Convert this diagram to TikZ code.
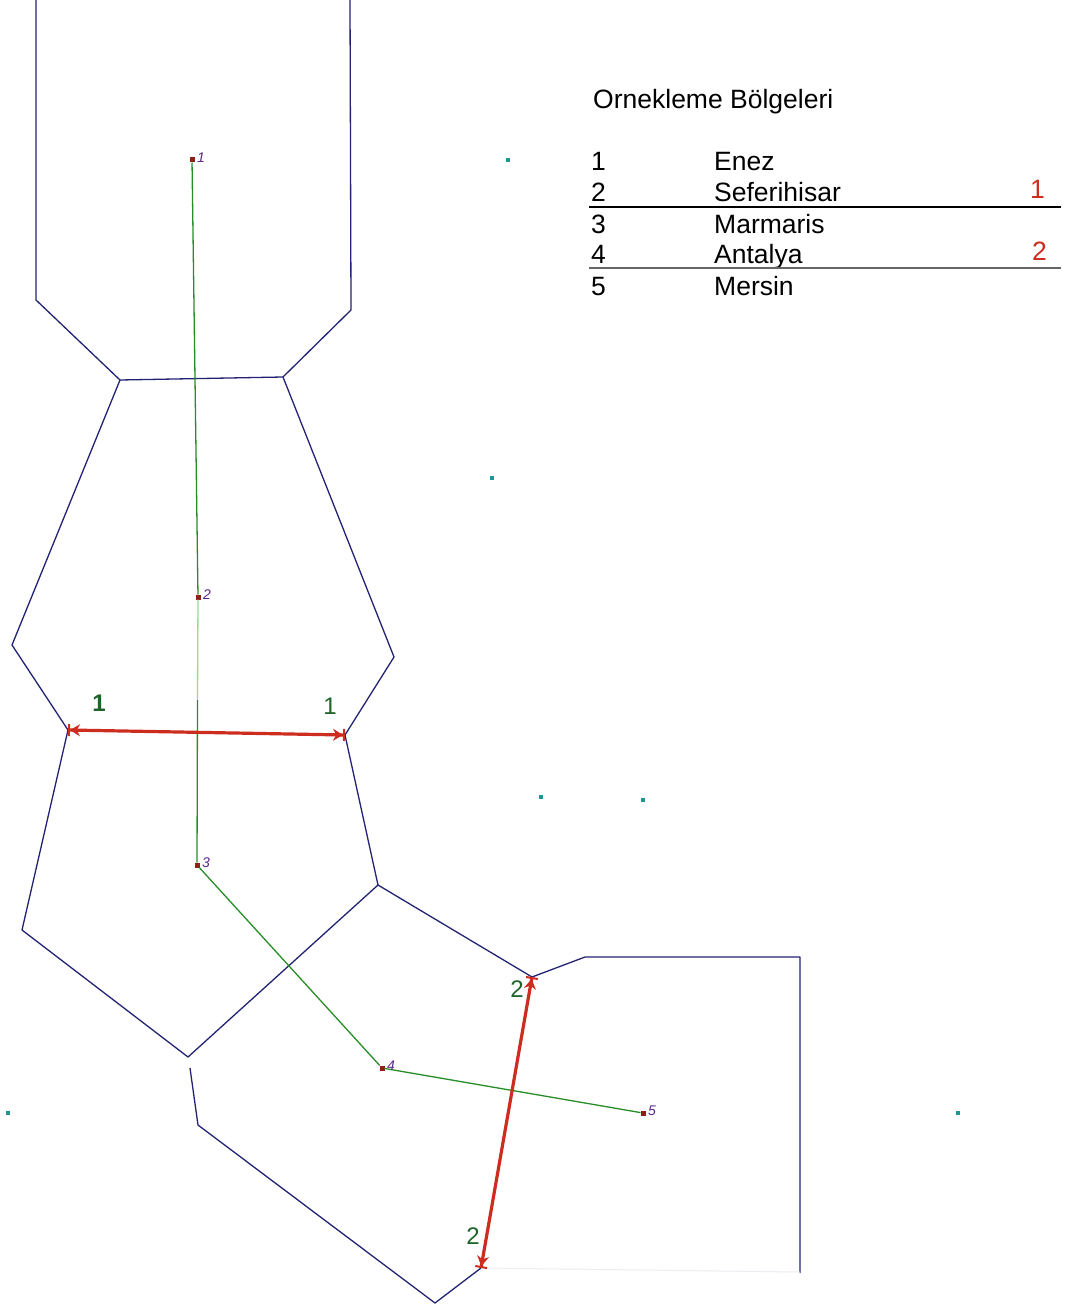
\documentclass[tikz,border=0pt]{standalone}
\usepackage{fontspec}
\setmainfont{Liberation Sans}
\usetikzlibrary{arrows.meta}
\definecolor{navy}{RGB}{35,35,115}
\definecolor{grn}{RGB}{40,140,40}
\definecolor{lgrn}{RGB}{150,220,150}
\definecolor{rd}{RGB}{205,45,30}
\definecolor{teal2}{RGB}{30,150,150}
\definecolor{purp}{RGB}{90,40,140}
\definecolor{dgrn}{RGB}{30,100,40}
\tikzset{
  cell/.style={draw=navy,line width=1.3pt,line join=round},
  faint/.style={draw=navy!8,line width=1pt},
  path1/.style={draw=grn,line width=1.3pt},
  barrier/.style={draw=rd,line width=3.2pt,{Bar[width=12pt,line width=2pt]Stealth[length=10pt,width=12pt]}-{Stealth[length=10pt,width=12pt]Bar[width=12pt,line width=2pt]}},
  pt/.style={fill=rd!70!black,minimum size=5pt,inner sep=0pt,outer sep=0pt},
  ptlab/.style={text=purp,font=\fontsize{14}{14}\itshape,inner sep=0pt,anchor=south west},
  dot/.style={fill=teal2,minimum size=4.5pt,inner sep=0pt},
  blab/.style={text=dgrn,font=\fontsize{24}{24}\selectfont,inner sep=0pt},
  leg/.style={font=\fontsize{26.5}{26.5}\selectfont,inner sep=0pt,anchor=base west},
  legr/.style={leg,text=rd},
}
\begin{document}
\begin{tikzpicture}[x=1pt,y=-1pt]
\path[fill=white,use as bounding box] (0,0) rectangle (1079,1308);
% vertices
\coordinate (a0) at (36,0);
\coordinate (a1) at (36,300);
\coordinate (a2) at (120,380);
\coordinate (a3) at (283,377);
\coordinate (a4) at (351,310);
\coordinate (a5) at (350,0);
\coordinate (b1) at (12,645);
\coordinate (b2) at (68,730);
\coordinate (b3) at (394,657);
\coordinate (b4) at (345,735);
\coordinate (c1) at (22,930);
\coordinate (c2) at (188,1057);
\coordinate (c3) at (378,885);
\coordinate (d1) at (532,977);
\coordinate (d2) at (585,957);
\coordinate (d3) at (800,957);
\coordinate (d4) at (800,1273);
\coordinate (e0) at (190,1068);
\coordinate (e1) at (198,1125);
\coordinate (e2) at (435,1303);
\coordinate (e3) at (481,1268);
\coordinate (e4) at (800,1272);
% cells
\draw[cell] (a0)--(a1)--(a2)--(a3)--(a4)--(a5);
\draw[cell] (a2)--(b1)--(b2);
\draw[cell] (a3)--(b3)--(b4);
\draw[cell] (b2)--(c1)--(c2)--(c3)--(b4);
\draw[cell] (c3)--(d1)--(d2)--(d3)--(d4);
\draw[cell] (e0)--(e1)--(e2)--(e3);
\draw[faint] (e3)--(e4);
% points
\node[pt] (p1) at (192,160) {};
\node[pt] (p2) at (198,597) {};
\node[pt] (p3) at (197,865) {};
\node[pt] (p4) at (382,1068) {};
\node[pt] (p5) at (643,1113) {};
\draw[path1] (p1)--(p2);
\draw[draw=lgrn,line width=1.3pt] (p2)--(197.5,700);
\draw[path1] (197.5,700)--(p3)--(p4)--(p5);
\node[ptlab] (l1) at (197,163) {1};
\node[ptlab] (l2) at (203,600) {2};
\node[ptlab] (l3) at (202,868) {3};
\node[ptlab] (l4) at (387,1071) {4};
\node[ptlab] (l5) at (648,1116) {5};
% barriers
\draw[barrier] (b2)--(b4);
\draw[barrier] (d1)--(e3);
\node[blab,font=\fontsize{24}{24}\bfseries] (g1a) at (99,703) {1};
\node[blab] (g1b) at (330,706) {1};
\node[blab] (g2a) at (517,989) {2};
\node[blab] (g2b) at (473,1236) {2};
% teal dots
\node[dot] (t1) at (508,160) {};
\node[dot] (t2) at (492,478) {};
\node[dot] (t3) at (541,797) {};
\node[dot] (t4) at (643,800) {};
\node[dot] (t5) at (8,1113) {};
\node[dot] (t6) at (958,1113) {};
% legend
\node[leg] (title) at (593,109) {Ornekleme Bölgeleri};
\node[leg] (n1) at (591,171) {1};
\node[leg] (s1) at (714,171) {Enez};
\node[leg] (n2) at (591,201) {2};
\node[leg] (s2) at (714,201) {Seferihisar};
\node[leg] (n3) at (591,233) {3};
\node[leg] (s3) at (714,233) {Marmaris};
\node[leg] (n4) at (591,263) {4};
\node[leg] (s4) at (714,263) {Antalya};
\node[leg] (n5) at (591,295) {5};
\node[leg] (s5) at (714,295) {Mersin};
\node[legr] (r1) at (1030,199) {1};
\node[legr] (r2) at (1032,260) {2};
\coordinate (h1a) at (589,207);
\coordinate (h1b) at (1061,207);
\coordinate (h2a) at (589,268);
\coordinate (h2b) at (1061,268);
\draw[line width=2pt,black] (h1a)--(h1b);
\draw[line width=2pt,black!60] (h2a)--(h2b);
\end{tikzpicture}
\end{document}
